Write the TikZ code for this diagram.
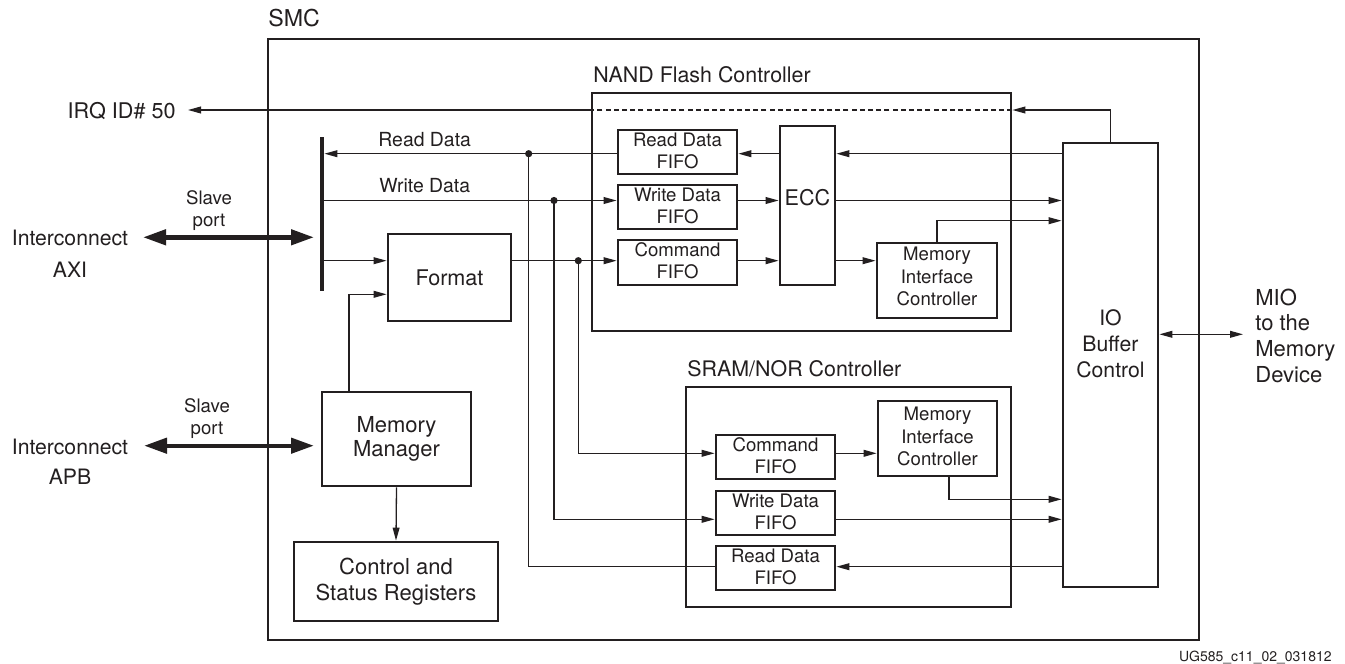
\documentclass[tikz,border=0pt]{standalone}
\usepackage{fontspec}
\setmainfont{TeX Gyre Heros}
\usetikzlibrary{arrows.meta,fit}
\definecolor{ink}{HTML}{231F20}
\begin{document}
\begin{tikzpicture}[x=0.5pt,y=-0.5pt,
  box/.style={draw=ink,line width=1.4pt,inner sep=0pt,align=center,text=ink},
  wire/.style={draw=ink,line width=0.65pt},
  arr/.style={wire,-{Triangle[length=6.5pt,width=3.4pt]}},
  arrtwo/.style={wire,{Triangle[length=6.5pt,width=3.4pt]}-{Triangle[length=6.5pt,width=3.4pt]}},
  bigarr/.style={draw=ink,line width=2.2pt,{Triangle[length=11.5pt,width=7.5pt]}-{Triangle[length=11.5pt,width=7.5pt]}},
  jdot/.style={circle,fill=ink,inner sep=0pt,minimum size=3.6pt},
  lbl/.style={inner sep=0pt,align=center,text=ink},
  fifofont/.style={font=\fontsize{9.3}{11}\selectfont},
  micfont/.style={font=\fontsize{9.3}{11.2}\selectfont},
  bigfont/.style={font=\fontsize{10.8}{12.6}\selectfont},
]
\useasboundingbox (0,0) rectangle (1345,664);
\fill[white] (0,0) rectangle (1345,664);

% y levels
\coordinate (yIRQ) at (0,110);
\coordinate (yR) at (0,153.7);
\coordinate (yW) at (0,200.5);
\coordinate (yM) at (0,220.7);
\coordinate (yC) at (0,260.7);
\coordinate (yF2) at (0,294.3);
\coordinate (yMIO) at (0,334.3);
\coordinate (ySC) at (0,453.3);
\coordinate (yS1) at (0,499.3);
\coordinate (ySW) at (0,519.3);
\coordinate (ySR) at (0,566.7);
\coordinate (xMF) at (349,0);
\coordinate (xS) at (949,0);

% main boxes
\node[box,fit={(268,39) (1199,640)}] (smc) {};
\node[lbl,anchor=west,font=\fontsize{11.6}{13}\selectfont] (smcl) at (268,18.5) {SMC};

\node[box,fit={(592,93) (1011,331)}] (nand) {};
\node[lbl,anchor=west,font=\fontsize{10.7}{12}\selectfont] (nandl) at (593,75) {NAND Flash Controller};

\node[box,fit={(686,387) (1011,607)}] (sram) {};
\node[lbl,anchor=west,font=\fontsize{10.7}{12}\selectfont] (sraml) at (687,368.3) {SRAM/NOR Controller};

\node[fill=ink,inner sep=0pt,fit={(320,137) (324,291)}] (bus) {};

\node[box,bigfont,fit={(388,234) (511,321)}] (fmt) {};
\node[lbl,bigfont] at (fmt.center) {Format};

\node[box,fit={(322,392) (471,486)}] (mm) {};
\node[lbl,font=\fontsize{11}{12}\selectfont] at (mm.center) {Memory\\Manager};

\node[box,fit={(294,542) (498,621)}] (csr) {};
\node[lbl,font=\fontsize{11}{13.2}\selectfont] at (csr.center) {Control and\\Status Registers};

% NAND internals
\node[box,fit={(618,130) (737,174)}] (rdf) {};
\node[lbl,fifofont] at ([yshift=0.8pt]rdf.center) {Read Data\\FIFO};
\node[box,fit={(618,185) (737,229)}] (wdf) {};
\node[lbl,fifofont] at ([yshift=0.8pt]wdf.center) {Write Data\\FIFO};
\node[box,fit={(618,240) (737,285)}] (cmdf) {};
\node[lbl,fifofont] at ([yshift=0.8pt]cmdf.center) {Command\\FIFO};
\node[box,fit={(780,126) (835,285)}] (ecc) {};
\node[lbl,bigfont] at ([yshift=4pt]ecc.center) {ECC};
\node[box,fit={(877,243) (997,318)}] (nmic) {};
\node[lbl,micfont] at ([yshift=2pt]nmic.center) {Memory\\Interface\\Controller};

% IO buffer
\node[box,fit={(1063,143) (1158,587)}] (io) {};
\node[lbl,font=\fontsize{10.6}{12.9}\selectfont] (iot) at (1110.5,344) {IO\\Buffer\\Control};

% SRAM internals
\node[box,fit={(716,435) (835,479)}] (scmd) {};
\node[lbl,fifofont] at ([yshift=0.8pt]scmd.center) {Command\\FIFO};
\node[box,fit={(716,491) (835,535)}] (swd) {};
\node[lbl,fifofont] at ([yshift=0.8pt]swd.center) {Write Data\\FIFO};
\node[box,fit={(716,546) (835,590)}] (srd) {};
\node[lbl,fifofont] at ([yshift=0.8pt]srd.center) {Read Data\\FIFO};
\node[box,fit={(878,401) (997,476)}] (smic) {};
\node[lbl,micfont] at ([yshift=1pt]smic.center) {Memory\\Interface\\Controller};

% outside labels
\node[lbl,anchor=east,bigfont] (irq) at (176,111) {IRQ ID\# 50};
\coordinate (irqtip) at (188,110);
\node[lbl,font=\fontsize{10.6}{12}\selectfont] (ic1) at (70,238) {Interconnect};
\node[lbl,font=\fontsize{10.6}{12}\selectfont] (axi) at (70,269.3) {AXI};
\node[lbl,font=\fontsize{10.6}{12}\selectfont] (ic2) at (70,446.7) {Interconnect};
\node[lbl,font=\fontsize{10.6}{12}\selectfont] (apb) at (70,476.7) {APB};
\node[lbl,font=\fontsize{9.3}{11.3}\selectfont] (sp1) at (209,210.5) {Slave\\port};
\node[lbl,font=\fontsize{9.3}{11.3}\selectfont] (sp2) at (207,418.5) {Slave\\port};
\node[lbl,anchor=west,font=\fontsize{9.7}{11}\selectfont] (rdl) at (378,139.5) {Read Data};
\node[lbl,anchor=west,font=\fontsize{9.7}{11}\selectfont] (wdl) at (379,185.5) {Write Data};
\node[lbl,anchor=west,align=left,font=\fontsize{11}{12.85}\selectfont] (mio) at (1255,335.5) {MIO\\to the\\Memory\\Device};
\coordinate (mioend) at (1243,334.3);
\node[lbl,anchor=east,font=\fontsize{7}{8}\selectfont] (ug) at (1332,657.3) {UG585\_c11\_02\_031812};

% thick slave port arrows
\coordinate (axiL) at (143,237.3);
\coordinate (axiR) at (314,237.3);
\coordinate (apbL) at (144,445.7);
\coordinate (apbR) at (314,445.7);
\draw[bigarr] (axiL) -- (axiR);
\draw[bigarr] (apbL) -- (apbR);

% IRQ
\draw[arr] (io.north) |- (nand.east |- yIRQ);
\draw[wire,dash pattern=on 2.5pt off 1.6pt] (nand.east |- yIRQ) -- (nand.west |- yIRQ);
\draw[arr] (nand.west |- yIRQ) -- (irqtip);

% read data
\draw[arr] (rdf.west |- yR) -- (bus.east |- yR);
\node[jdot] (dR) at (528.7,153.7) {};
\draw[wire] (dR.center) |- (srd.west |- ySR);
% write data
\draw[arr] (bus.east |- yW) -- (wdf.west |- yW);
\node[jdot] (dW) at (554,200.5) {};
\draw[arr] (dW.center) |- (swd.west |- ySW);
% command
\draw[arr] (bus.east |- yC) -- (fmt.west |- yC);
\draw[arr] (fmt.east |- yC) -- (cmdf.west |- yC);
\node[jdot] (dC) at (578.3,260.7) {};
\draw[arr] (dC.center) |- (scmd.west |- ySC);
% memory manager
\draw[arr] (mm.north -| xMF) |- (fmt.west |- yF2);
\draw[arr] (mm.south) -- (csr.north);

% NAND internals
\draw[arr] (ecc.west |- yR) -- (rdf.east |- yR);
\draw[arr] (wdf.east |- yW) -- (ecc.west |- yW);
\draw[arr] (cmdf.east |- yC) -- (ecc.west |- yC);
\draw[arr] (io.west |- yR) -- (ecc.east |- yR);
\draw[arr] (ecc.east |- yW) -- (io.west |- yW);
\draw[arr] (ecc.east |- yC) -- (nmic.west |- yC);
\draw[arr] (nmic.north) |- (io.west |- yM);

% SRAM internals
\draw[arr] (scmd.east |- ySC) -- (smic.west |- ySC);
\draw[arr] (smic.south -| xS) |- (io.west |- yS1);
\draw[arr] (swd.east |- ySW) -- (io.west |- ySW);
\draw[arr] (io.west |- ySR) -- (srd.east |- ySR);

% MIO
\draw[arrtwo] (io.east |- yMIO) -- (mioend);
\end{tikzpicture}
\end{document}
